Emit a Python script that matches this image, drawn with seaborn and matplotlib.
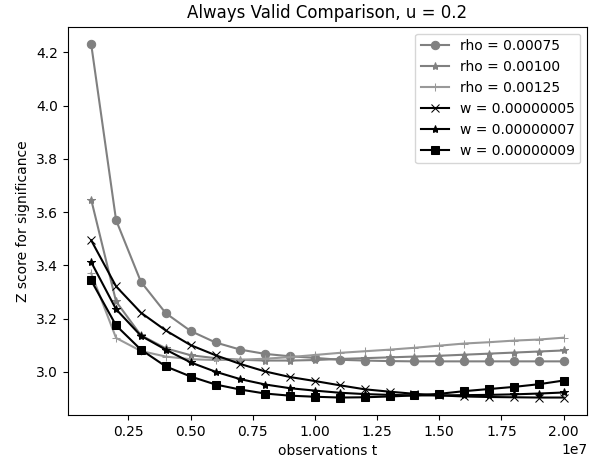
import numpy as np
import pandas as pd
import matplotlib
matplotlib.use("Agg")
import matplotlib.pyplot as plt
import seaborn as sns

# observations t (1e6 .. 2e7)
t_obs = [1e6 * k for k in range(1, 21)]

# rho mixtures (grey)
rho_075 = [4.231, 3.570, 3.338, 3.220, 3.153, 3.110, 3.083, 3.067, 3.058, 3.052,
           3.045, 3.042, 3.040, 3.039, 3.039, 3.039, 3.039, 3.039, 3.039, 3.039]
rho_100 = [3.647, 3.264, 3.137, 3.088, 3.062, 3.051, 3.045, 3.042, 3.042, 3.044,
           3.048, 3.051, 3.054, 3.057, 3.060, 3.064, 3.068, 3.072, 3.076, 3.080]
rho_125 = [3.370, 3.127, 3.078, 3.057, 3.047, 3.044, 3.045, 3.049, 3.055, 3.063,
           3.071, 3.077, 3.083, 3.090, 3.098, 3.106, 3.111, 3.117, 3.121, 3.128]

# w mixtures (black)
w_5 = [3.494, 3.321, 3.222, 3.155, 3.100, 3.062, 3.029, 3.001, 2.980, 2.965,
       2.949, 2.934, 2.925, 2.917, 2.911, 2.907, 2.905, 2.904, 2.903, 2.903]
w_7 = [3.412, 3.235, 3.135, 3.083, 3.035, 3.000, 2.972, 2.952, 2.938, 2.929,
       2.921, 2.916, 2.913, 2.911, 2.911, 2.912, 2.913, 2.915, 2.918, 2.922]
w_9 = [3.343, 3.174, 3.083, 3.020, 2.982, 2.952, 2.933, 2.918, 2.910, 2.906,
       2.903, 2.904, 2.907, 2.911, 2.917, 2.927, 2.935, 2.943, 2.953, 2.967]

series = [
    ("rho = 0.00075", rho_075, "o", "#808080"),
    ("rho = 0.00100", rho_100, "*", "#808080"),
    ("rho = 0.00125", rho_125, "+", "#999999"),
    ("w = 0.00000005", w_5, "x", "black"),
    ("w = 0.00000007", w_7, "*", "black"),
    ("w = 0.00000009", w_9, "s", "black"),
]

fig = plt.figure(figsize=(5.98, 4.66), dpi=100)
ax = fig.add_axes([0.113, 0.109, 0.869, 0.834])

for name, vals, mk, col in series:
    df = pd.DataFrame({"t": t_obs, "z": vals})
    sns.lineplot(data=df, x="t", y="z", marker=mk, color=col, label=name,
                 markeredgecolor=col, ax=ax)

ax.set_title("Always Valid Comparison, u = 0.2")
ax.set_xlabel("observations t")
ax.set_ylabel("Z score for significance")
ax.legend(loc="upper right")

fig.savefig("out.png", dpi=100)
